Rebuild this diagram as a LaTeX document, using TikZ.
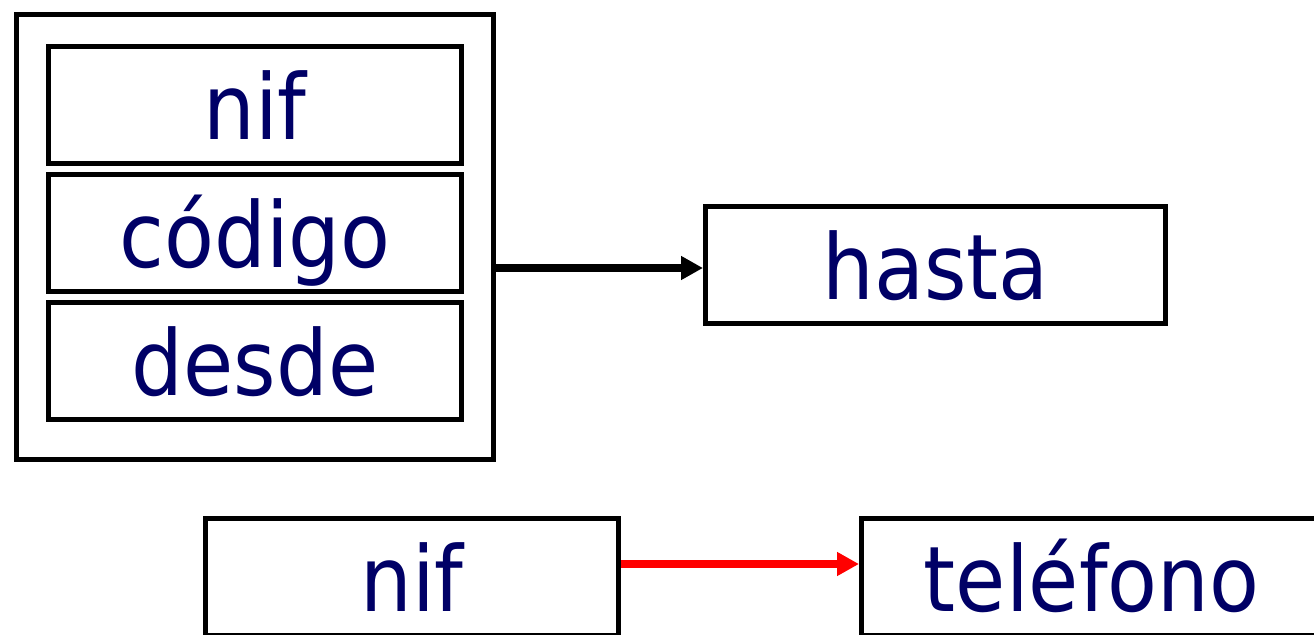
\documentclass[tikz,border=0pt]{standalone}
\usepackage{fontspec}
\setmainfont{DejaVu Sans Condensed}
\usetikzlibrary{arrows.meta}
\definecolor{navytext}{RGB}{0,0,102}
\tikzset{
    campo/.style={draw,line width=3.75pt,minimum width=310pt,minimum height=88pt,
        inner sep=0pt,text height=52pt,text depth=0pt,text=navytext,
        font=\fontsize{68}{80}\selectfont},
    flecha/.style={line width=6pt,-{Triangle[length=16.5pt,width=17pt]}}
}
\begin{document}
\begin{tikzpicture}[x=0.75pt,y=-0.75pt]
        \useasboundingbox (0,0) rectangle (1314,635);
        \clip (0,0) rectangle (1314,635);
        \node[draw,line width=3.75pt,minimum width=358pt,minimum height=334pt](grupo) at (255,237){};
        \foreach \n/\y/\t in {nif/105/nif, cod/233/c\'odigo, des/361/desde}{
            \node[campo](\n) at (255,\y){\t};
        }
        \node[campo,minimum width=345pt](hasta) at (935.5,265){hasta};
        \draw[flecha]([yshift=-2.25pt]grupo.east |- hasta.west)--([yshift=-2.25pt]hasta.west);
        \node[campo](nifb) at (412,577){nif};
        \node[campo,minimum width=345pt](tel) at (1091.5,577){tel\'efono};
        \draw[flecha,red]([yshift=9.75pt]nifb.east)--([yshift=9.75pt]tel.west);
    \end{tikzpicture}
\end{document}
